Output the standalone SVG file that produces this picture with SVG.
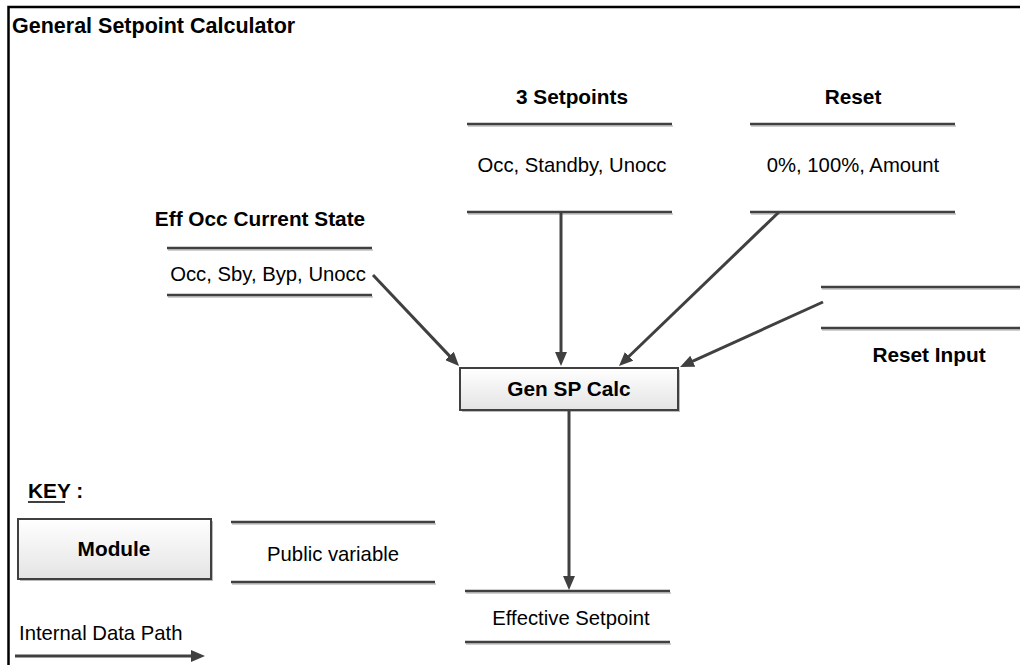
<svg xmlns="http://www.w3.org/2000/svg" width="1020" height="665" viewBox="0 0 1020 665">
<style>
text{font-family:"Liberation Sans",Arial,sans-serif;fill:#000}
.b{font-weight:bold;font-size:20.8px}
.r{font-size:20.3px}
.m{text-anchor:middle}
.pv{stroke:#404040;stroke-width:2.5}
.sh{stroke:#d0d0d0;stroke-width:2}
.cn{stroke:#404040;stroke-width:3;fill:none;marker-end:url(#ah)}
</style>
<defs>
<marker id="ah" markerUnits="userSpaceOnUse" markerWidth="14" markerHeight="12" refX="9" refY="6" orient="auto">
<path d="M0,0 L14,6 L0,12 Z" fill="#404040"/>
</marker>
<linearGradient id="bg" x1="0" y1="0" x2="0" y2="1">
<stop offset="0" stop-color="#ffffff"/>
<stop offset="1" stop-color="#e4e4e4"/>
</linearGradient>
</defs>
<rect width="1020" height="665" fill="#fff"/>
<path d="M8.5,665 V7 H1020" fill="none" stroke="#000" stroke-width="2.5"/>
<text class="b" x="12" y="33" style="font-size:21.5px">General Setpoint Calculator</text>

<g id="setpoints">
<text class="b m" x="572" y="104">3 Setpoints</text>
<line class="sh" x1="468" y1="126" x2="673" y2="126"/>
<line class="pv" x1="467" y1="124" x2="672" y2="124"/>
<text class="r m" x="572" y="172">Occ, Standby, Unocc</text>
<line class="sh" x1="468" y1="214" x2="673" y2="214"/>
<line class="pv" x1="467" y1="212" x2="672" y2="212"/>
</g>

<g id="reset">
<text class="b m" x="853" y="104">Reset</text>
<line class="sh" x1="751" y1="126" x2="956" y2="126"/>
<line class="pv" x1="750" y1="124" x2="955" y2="124"/>
<text class="r m" x="853" y="172">0%, 100%, Amount</text>
<line class="sh" x1="751" y1="214" x2="956" y2="214"/>
<line class="pv" x1="750" y1="212" x2="955" y2="212"/>
</g>

<g id="effocc">
<text class="b m" x="260" y="226">Eff Occ Current State</text>
<line class="sh" x1="168" y1="250" x2="373" y2="250"/>
<line class="pv" x1="167" y1="248" x2="372" y2="248"/>
<text class="r m" x="268" y="281">Occ, Sby, Byp, Unocc</text>
<line class="sh" x1="168" y1="297" x2="373" y2="297"/>
<line class="pv" x1="167" y1="295" x2="372" y2="295"/>
</g>

<g id="resetinput">
<line class="sh" x1="822" y1="289" x2="1020" y2="289"/>
<line class="pv" x1="821" y1="287" x2="1020" y2="287"/>
<line class="sh" x1="822" y1="330" x2="1020" y2="330"/>
<line class="pv" x1="821" y1="328" x2="1020" y2="328"/>
<text class="b m" x="929" y="362">Reset Input</text>
</g>

<g id="gensp">
<rect x="462" y="370" width="218" height="42" fill="#bbb"/>
<rect x="460" y="368" width="218" height="42" fill="url(#bg)" stroke="#404040" stroke-width="2"/>
<text class="b m" x="569" y="396">Gen SP Calc</text>
</g>

<g id="effsp">
<line class="sh" x1="466" y1="593" x2="671" y2="593"/>
<line class="pv" x1="465" y1="591" x2="670" y2="591"/>
<text class="r m" x="571" y="625">Effective Setpoint</text>
<line class="sh" x1="466" y1="644" x2="671" y2="644"/>
<line class="pv" x1="465" y1="642" x2="670" y2="642"/>
</g>

<g id="key">
<text class="b" x="28" y="498">KEY :</text>
<line x1="28" y1="502" x2="65" y2="502" stroke="#000" stroke-width="1.5"/>
<rect x="20" y="521" width="193" height="60" fill="#bbb"/>
<rect x="18" y="519" width="193" height="60" fill="url(#bg)" stroke="#404040" stroke-width="2"/>
<text class="b m" x="114" y="556">Module</text>
<line class="sh" x1="232" y1="524" x2="436" y2="524"/>
<line class="pv" x1="231" y1="522" x2="435" y2="522"/>
<text class="r m" x="333" y="561">Public variable</text>
<line class="sh" x1="232" y1="584" x2="436" y2="584"/>
<line class="pv" x1="231" y1="582" x2="435" y2="582"/>
<text class="r" x="19" y="640">Internal Data Path</text>
</g>

<g id="connectors">
<line class="cn" x1="373" y1="275" x2="455.6" y2="362.4"/>
<line class="cn" x1="561" y1="212" x2="561" y2="361"/>
<line class="cn" x1="779" y1="212" x2="622.6" y2="362.5"/>
<line class="cn" x1="823" y1="302" x2="684.6" y2="364.9"/>
<line class="cn" x1="569" y1="410" x2="569" y2="585"/>
<line class="cn" x1="15" y1="656" x2="200" y2="656"/>
</g>
</svg>
